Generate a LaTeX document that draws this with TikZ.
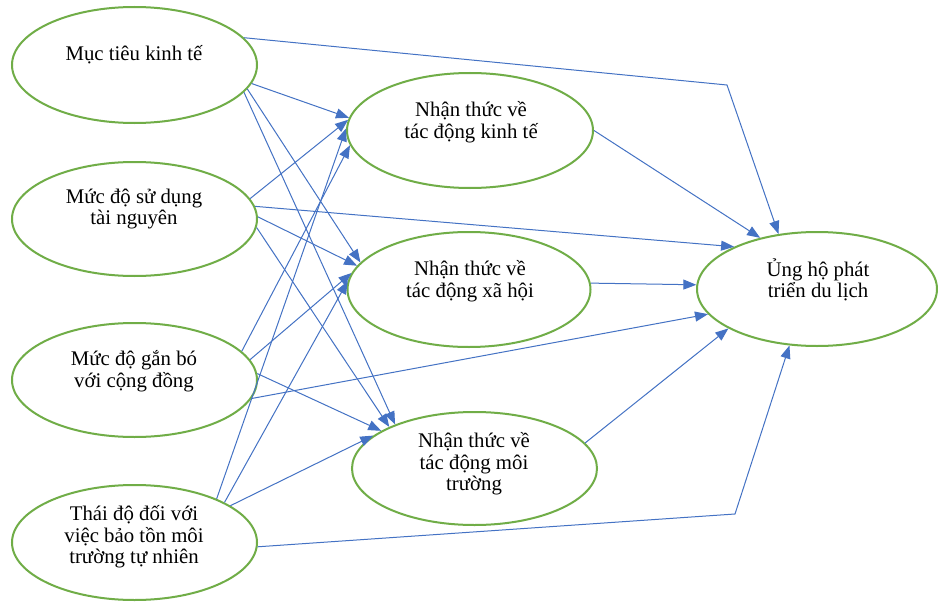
\documentclass[tikz,border=0pt]{standalone}
\usepackage{fontspec}
\setmainfont{Liberation Serif}
\usetikzlibrary{shapes.geometric,arrows.meta}
\definecolor{ovgreen}{HTML}{70AD47}
\definecolor{lnblue}{HTML}{4472C4}
\tikzset{
  oval/.style={ellipse, draw=ovgreen, line width=2pt, inner sep=0pt, fill=white},
  lnk/.style={draw=lnblue, line width=1pt, -{Triangle[length=13pt,width=10pt]}},
  lbl/.style={font=\fontsize{20.8pt}{21.5pt}\selectfont, align=center, inner sep=0pt, text=black}
}
\begin{document}
\begin{tikzpicture}[x=1pt,y=-1pt]
\useasboundingbox[fill=white] (0,0) rectangle (938,602);
% ellipses
\node[oval, minimum width=245pt, minimum height=116pt] (e1) at (134.5,65) {};
\node[oval, minimum width=245pt, minimum height=114pt] (e2) at (134.5,219) {};
\node[oval, minimum width=245pt, minimum height=114pt] (e3) at (134.5,380) {};
\node[oval, minimum width=245pt, minimum height=115pt] (e4) at (134.5,542.5) {};
\node[oval, minimum width=246pt, minimum height=115pt] (m1) at (470,130.5) {};
\node[oval, minimum width=243pt, minimum height=115pt] (m2) at (469,289.5) {};
\node[oval, minimum width=245pt, minimum height=113pt] (m3) at (474.5,468.5) {};
\node[oval, minimum width=240pt, minimum height=114pt] (r) at (817,289) {};
% texts
\node[lbl] (t1) at (134,55) {Mục tiêu kinh tế};
\node[lbl] (t2) at (134,209) {Mức độ sử dụng\\tài nguyên};
\node[lbl] (t3) at (134,371) {Mức độ gắn bó\\với cộng đồng};
\node[lbl] (t4) at (134,537) {Thái độ đối với\\việc bảo tồn môi\\trường tự nhiên};
\node[lbl] (tm1) at (471,122) {Nhận thức về\\tác động kinh tế};
\node[lbl] (tm2) at (470,281) {Nhận thức về\\tác động xã hội};
\node[lbl] (tm3) at (474,464) {Nhận thức về\\tác động môi\\trường};
\node[lbl] (tr) at (818,280) {Ủng hộ phát\\triển du lịch};
% bend points
\coordinate (b1) at (727,85);
\coordinate (b2) at (735,514);
% connectors
\draw[lnk] (e1.-9) -- (m1.174);
\draw[lnk] (e1.-12) -- (m2.166);
\draw[lnk] (e1.-14) -- (m3.151);
\draw[lnk] (e1.14) -- (b1) -- (r.125);
\draw[lnk] (e2.10) -- (m1.175);
\draw[lnk] (e2.6) -- (r.153);
\draw[lnk] (e2.1) -- (m2.168);
\draw[lnk] (e2.-4) -- (m3.154);
\draw[lnk] (e3.15) -- (m1.187);
\draw[lnk] (e3.10) -- (m2.172);
\draw[lnk] (e3.3) -- (m3.158);
\draw[lnk] (e3.-9) -- (r.193);
\draw[lnk] (e4.28) -- (m1.179);
\draw[lnk] (e4.24) -- (m2.176);
\draw[lnk] (e4.21) -- (m3.162);
\draw[lnk] (e4.-2) -- (b2) -- (r.244);
\draw[lnk] (m1.0) -- (r.138);
\draw[lnk] (m2.3) -- (r.178);
\draw[lnk] (m3.13) -- (r.204);
\end{tikzpicture}
\end{document}
